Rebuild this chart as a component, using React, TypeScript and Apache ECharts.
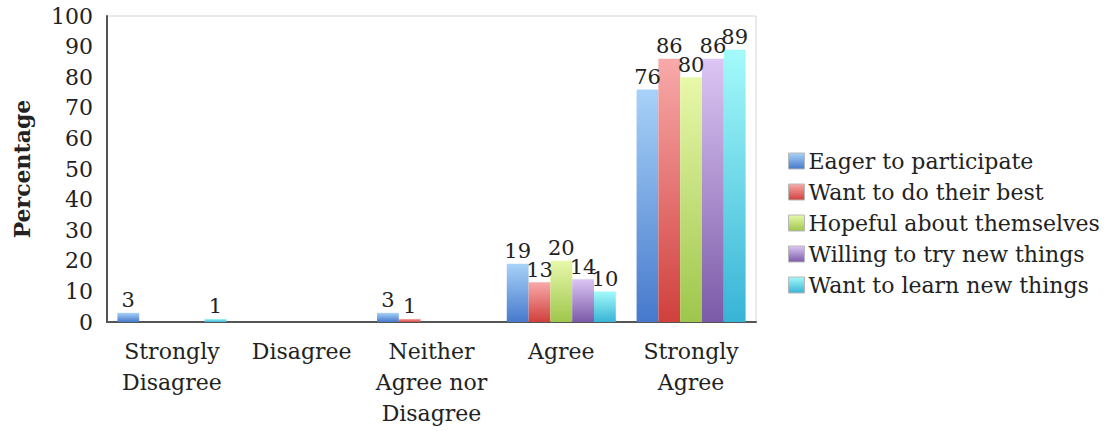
import React, { useEffect, useRef } from "react";
import * as echarts from "echarts";

const categories = [
  "Strongly\nDisagree",
  "Disagree",
  "Neither\nAgree nor\nDisagree",
  "Agree",
  "Strongly\nAgree",
];

const seriesNames = [
  "Eager to participate",
  "Want to do their best",
  "Hopeful about themselves",
  "Willing to try new things",
  "Want to learn new things",
];

const eagerToParticipate = [3, 0, 3, 19, 76];
const wantToDoTheirBest = [0, 0, 1, 13, 86];
const hopefulAboutThemselves = [0, 0, 0, 20, 80];
const willingToTryNewThings = [0, 0, 0, 14, 86];
const wantToLearnNewThings = [1, 0, 0, 10, 89];

const yTicks = [0, 10, 20, 30, 40, 50, 60, 70, 80, 90, 100];

// light top → saturated bottom, one pair per series
const gradientStops: [string, string][] = [
  ["#a8d2f8", "#4679cc"],
  ["#f8aaaa", "#d0403c"],
  ["#e8f8aa", "#9ec64c"],
  ["#dcc6f4", "#7b5aa8"],
  ["#a4fafa", "#38b4d6"],
];

const FONT = "DejaVu Serif";

export default function App() {
  const ref = useRef<HTMLDivElement>(null);

  useEffect(() => {
    if (!ref.current) return;
    const chart = echarts.init(ref.current, undefined, { renderer: "svg" });
    const values = [
      eagerToParticipate,
      wantToDoTheirBest,
      hopefulAboutThemselves,
      willingToTryNewThings,
      wantToLearnNewThings,
    ];

    chart.setOption({
      animation: false,
      backgroundColor: "#ffffff",
      textStyle: { fontFamily: FONT },
      grid: { left: 107, top: 16, right: 354, bottom: 109, show: true, borderColor: "#d4d4d4", borderWidth: 1 },
      legend: {
        orient: "vertical",
        left: 783,
        top: 145,
        itemWidth: 16,
        itemHeight: 16,
        itemGap: 9,
        icon: "rect",
        data: seriesNames,
        textStyle: { fontFamily: FONT, fontSize: 22, color: "#222", padding: [0, 0, 0, -1] },
        itemStyle: { borderColor: "#b8b8b8", borderWidth: 1 },
      },
      xAxis: {
        type: "category",
        data: categories,
        axisLine: { lineStyle: { color: "#555", width: 2 } },
        axisTick: { show: false },
        axisLabel: {
          fontFamily: FONT,
          fontSize: 22,
          color: "#222",
          lineHeight: 31,
          margin: 14,
          interval: 0,
        },
      },
      yAxis: {
        type: "value",
        min: yTicks[0],
        max: yTicks[yTicks.length - 1],
        interval: 10,
        name: "Percentage",
        nameLocation: "middle",
        nameGap: 74,
        nameTextStyle: { fontFamily: FONT, fontSize: 22, fontWeight: "bold", color: "#222" },
        axisLine: { show: true, lineStyle: { color: "#555", width: 2 } },
        axisTick: { show: false },
        splitLine: { show: false },
        axisLabel: { fontFamily: FONT, fontSize: 22, color: "#222", margin: 14 },
      },
      series: seriesNames.map((name, i) => ({
        name,
        type: "bar",
        data: values[i],
        barGap: "0%",
        barCategoryGap: "16%",
        itemStyle: {
          color: new echarts.graphic.LinearGradient(0, 0, 0, 1, [
            { offset: 0, color: gradientStops[i][0] },
            { offset: 1, color: gradientStops[i][1] },
          ]),
        },
        label: {
          show: true,
          position: "top",
          distance: 2,
          fontFamily: FONT,
          fontSize: 21,
          color: "#222",
          formatter: (p: any) => (p.value === 0 ? "" : String(p.value)),
        },
      })),
    });

    return () => chart.dispose();
  }, []);

  return <div ref={ref} style={{ width: 1110, height: 431, position: "absolute", left: 0, top: 0 }} />;
}
